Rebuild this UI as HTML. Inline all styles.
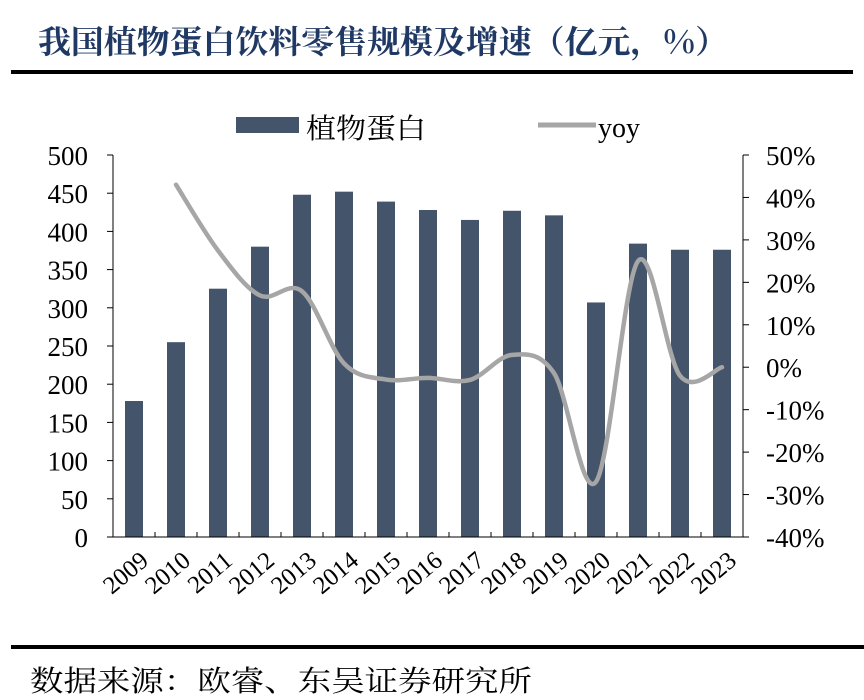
<!DOCTYPE html>
<html><head><meta charset="utf-8">
<style>
body{margin:0;background:#fff;width:864px;height:700px;overflow:hidden;}
svg{display:block}
text{font-family:"Liberation Serif","Noto Serif CJK SC",serif;fill:#000}
</style></head><body>
<svg id="s" width="864" height="700" xmlns="http://www.w3.org/2000/svg">
<text x="38" y="53" textLength="690" lengthAdjust="spacingAndGlyphs" style="font-family:'Noto Serif CJK SC','WenQuanYi Zen Hei',serif;font-weight:bold;font-size:32px;fill:#1f3864">我国植物蛋白饮料零售规模及增速（亿元，%）</text>
<rect x="11" y="70" width="842" height="4" fill="#000"/>
<rect x="11" y="645" width="853" height="4" fill="#000"/>
<text x="30" y="691" textLength="502" lengthAdjust="spacingAndGlyphs" style="font-family:'Noto Serif CJK SC',serif;font-size:29px">数据来源：欧睿、东吴证券研究所</text>
<rect x="236" y="117" width="63" height="16" fill="#44546a"/>
<text x="306" y="138" textLength="120" lengthAdjust="spacingAndGlyphs" style="font-family:'Noto Serif CJK SC',serif;font-size:28px">植物蛋白</text>
<line x1="538" y1="125" x2="596" y2="125" stroke="#a6a6a6" stroke-width="5"/>
<text x="598" y="137" font-size="28">yoy</text>
<g id="g"></g>
</svg>
<script>
var g=document.getElementById('g'),h='';
var L=113,R=743,T=155,B=537;
var vals=[178,255,325,380,448,452,439,428,415,427,421,307,384,376,376];
var yoy=[null,43,27.5,16.9,17.9,0.9,-2.9,-2.5,-3,2.9,-1.4,-27,25,-2,0];
var w=(R-L)/15;
for(var i=0;i<15;i++){var cx=L+w*(i+0.5),bh=vals[i]*(B-T)/500;
h+='<rect x="'+(cx-9)+'" y="'+(B-bh)+'" width="18" height="'+bh+'" fill="#44546a"/>';
h+='<text transform="translate('+(cx+16)+','+(B+26)+') rotate(-40)" text-anchor="end" style="font-size:25px">'+(2009+i)+'</text>';
h+='<line x1="'+(L+w*(i+1))+'" y1="'+B+'" x2="'+(L+w*(i+1))+'" y2="'+(B-5)+'" stroke="#000"/>';}
h+='<line x1="'+L+'" y1="'+T+'" x2="'+L+'" y2="'+B+'" stroke="#000"/><line x1="'+R+'" y1="'+T+'" x2="'+R+'" y2="'+B+'" stroke="#000"/><line x1="'+L+'" y1="'+B+'" x2="'+R+'" y2="'+B+'" stroke="#000"/>';
for(var k=0;k<=10;k++){var y=B-k*(B-T)/10;
h+='<line x1="'+(L-6)+'" y1="'+y+'" x2="'+L+'" y2="'+y+'" stroke="#000"/>';
h+='<text x="88" y="'+(y+10)+'" text-anchor="end" font-size="27">'+(k*50)+'</text>';}
for(var k=0;k<=9;k++){var y=B-k*(B-T)/9;
h+='<line x1="'+R+'" y1="'+y+'" x2="'+(R+6)+'" y2="'+y+'" stroke="#000"/>';
h+='<text x="766" y="'+(y+10)+'" font-size="27">'+(k*10-40)+'%</text>';}
var p=[];for(var i=1;i<15;i++)p.push([L+w*(i+0.5),B-(yoy[i]+40)*(B-T)/90]);
var d='M'+p[0][0]+','+p[0][1];
for(var i=0;i<p.length-1;i++){var p0=p[i-1]||p[i],p1=p[i],p2=p[i+1],p3=p[i+2]||p2;
d+=' C'+(p1[0]+(p2[0]-p0[0])/6)+','+(p1[1]+(p2[1]-p0[1])/6)+' '+(p2[0]-(p3[0]-p1[0])/6)+','+(p2[1]-(p3[1]-p1[1])/6)+' '+p2[0]+','+p2[1];}
h+='<path d="'+d+'" fill="none" stroke="#a6a6a6" stroke-width="4.5" stroke-linecap="round"/>';
g.innerHTML=h;
</script>
</body></html>
